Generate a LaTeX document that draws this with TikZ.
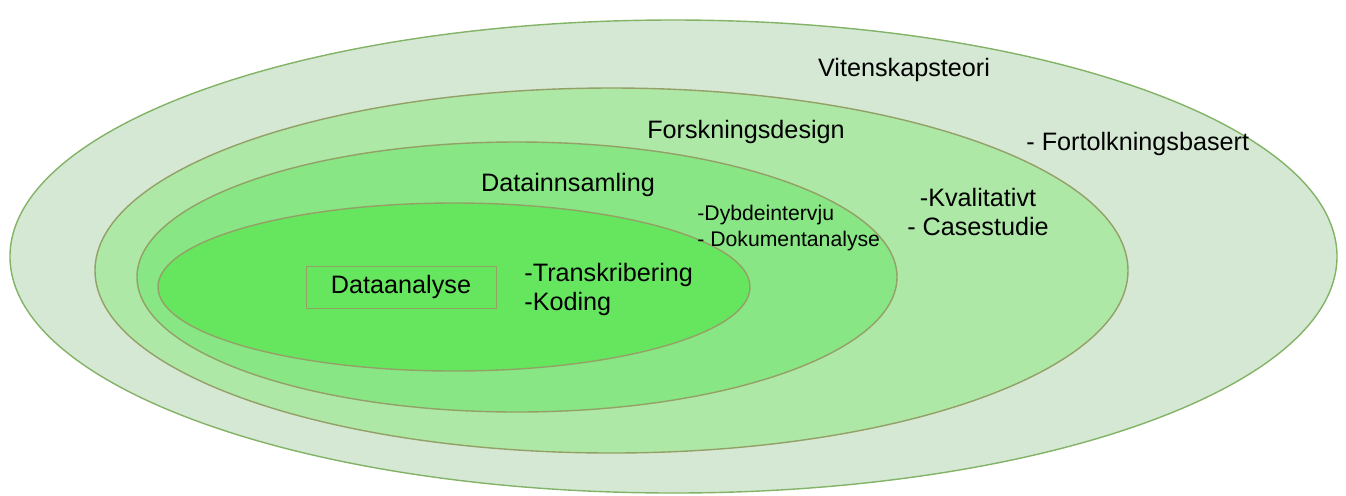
\documentclass[tikz,border=0pt]{standalone}
\usepackage{fontspec}
\setmainfont{Liberation Sans}
\usetikzlibrary{positioning}
\definecolor{theorygreen}{HTML}{D5E8D4}
\definecolor{designgreen}{HTML}{ADE8A7}
\definecolor{collectgreen}{HTML}{88E684}
\definecolor{analysisgreen}{HTML}{66E65F}
\definecolor{outeredge}{HTML}{82B366}
\definecolor{inneredge}{HTML}{94A066}
\tikzstyle{layer}=[draw=inneredge,line width=0.7pt]
\tikzstyle{lbl}=[inner sep=0pt,font=\fontsize{12.6}{14.5}\selectfont]
\tikzstyle{smalllbl}=[inner sep=0pt,font=\fontsize{10.6}{13}\selectfont]
\tikzstyle{stage}=[rectangle,draw=inneredge,line width=0.5pt,
  minimum width=95pt,minimum height=21pt,font=\fontsize{12.6}{14.5}\selectfont]

\begin{document}
\begin{tikzpicture}[x=0.5pt,y=-0.5pt]
  \useasboundingbox (0,0) rectangle (1346,495);

  % the nested layers, outside in
  \draw[layer,draw=outeredge,fill=theorygreen] (673.5,256.5) ellipse [x radius=331.75pt,y radius=118.25pt];
  \draw[layer,fill=designgreen]   (611.5,270.5) ellipse [x radius=258.25pt,y radius=91.25pt];
  \draw[layer,fill=collectgreen]  (517,277)     ellipse [x radius=190pt,y radius=67.5pt];
  \draw[layer,fill=analysisgreen] (454,287)     ellipse [x radius=148pt,y radius=42pt];

  % layer titles
  \path (904,70)  node (theory)  [lbl] {Vitenskapsteori};
  \path (746,132) node (design)  [lbl] {Forskningsdesign};
  \path (568,185) node (collect) [lbl] {Datainnsamling};
  \path (401,287) node (analysis) [stage] {\raisebox{-1.5pt}{Dataanalyse}};

  % what goes in each layer
  \path (1026,144) node (theorynote) [lbl,anchor=west] {- Fortolkningsbasert};
  \path (978,212) node (designnote) [lbl,align=center] {-Kvalitativt\\- Casestudie};
  \path (697,228) node (collectnote) [smalllbl,anchor=west,align=left] {-Dybdeintervju\\- Dokumentanalyse};
  \path (524,289) node (analysisnote) [lbl,anchor=west,align=left] {-Transkribering\\-Koding};

\end{tikzpicture}
\end{document}
